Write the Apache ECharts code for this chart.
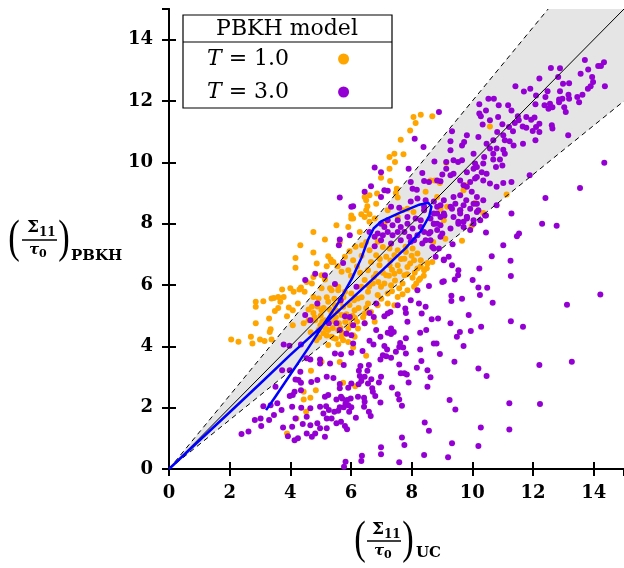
<!DOCTYPE html>
<html>
<head>
<meta charset="utf-8">
<script src="https://cdn.jsdelivr.net/npm/echarts@6/dist/echarts.min.js"></script>
<style>
  html, body { margin: 0; padding: 0; background: #fff; }
  #chart { width: 624px; height: 568px; }
</style>
</head>
<body>
<div id="chart"></div>
<script>
// Shear stress predicted by the PBKH model vs. the UC reference, two temperatures.
const seriesNames = ['T = 1.0', 'T = 3.0'];
const axisTicks = [0, 2, 4, 6, 8, 10, 12, 14];

// T = 1.0 samples
const t1Points = [
  [8.06,11.48],[8.30,11.55],[8.68,11.50],[8.13,11.28],[7.95,11.04],[7.64,10.74],[7.73,10.26],[7.43,10.28],
  [7.27,10.17],[7.45,10.01],[7.27,9.79],[6.99,9.50],[7.29,9.39],[7.51,9.14],[6.61,8.93],[6.45,8.87],
  [6.86,8.98],[6.50,8.76],[7.48,9.00],[7.54,8.85],[6.83,8.65],[6.54,8.57],[6.01,8.27],[6.34,8.31],
  [6.61,8.31],[6.07,8.17],[7.21,8.44],[6.78,8.17],[5.52,7.95],[8.46,9.04],[8.62,9.41],[8.76,9.41],
  [7.86,8.49],[7.70,8.44],[8.06,8.38],[8.95,8.49],[9.06,8.11],[9.71,9.09],[9.77,9.25],[7.54,8.22],
  [7.10,8.00],[6.36,7.30],[6.61,7.13],
  [4.76,7.73],[5.14,7.48],[5.63,7.40],[4.33,7.30],[4.76,7.06],[4.17,6.88],[5.25,6.94],[5.33,6.83],
  [5.42,6.75],[4.87,6.70],[5.20,6.61],[4.17,6.56],[5.56,6.61],[5.69,6.43],[5.03,6.32],[4.76,6.26],
  [5.14,6.18],[4.54,6.10],[4.35,5.92],[4.00,5.89],[3.73,5.85],[4.11,5.78],[4.47,5.78],[4.30,5.85],
  [5.31,5.89],[5.58,5.83],[4.76,5.61],[3.60,5.61],[3.78,5.61],[3.38,5.56],[3.46,5.58],[3.11,5.47],
  [2.86,5.45],[3.67,5.45],[4.25,5.40],[3.95,5.27],[4.08,5.18],[3.60,5.25],[3.49,5.15],[2.86,5.29],
  [4.60,5.20],[4.76,5.09],[3.89,4.98],[3.30,4.91],[4.60,4.85],[4.08,4.69],[4.44,4.75],[2.86,4.75],
  [3.35,4.56],[3.32,4.47],[2.70,4.31],[3.00,4.22],[3.15,4.17],[3.38,4.22],[2.05,4.22],[2.29,4.15],
  [2.75,4.09],
  [4.68,3.20],[4.84,2.57],[4.66,2.32],[4.44,2.27],[4.20,1.65],[4.52,1.87],[3.89,1.16],
  [5.63,3.49],[5.03,3.50],[4.44,2.52],[6.07,3.96],[6.50,3.69],[6.14,2.70],[5.74,2.81],
  [6.01,8.17],[6.45,8.22],[6.50,8.44],[6.61,8.06],[5.91,7.89],[6.29,7.73],[6.88,7.41],[7.05,7.24],
  [7.27,7.19],[7.54,7.13],[7.81,7.08],[8.03,7.19],[8.19,7.03],[8.08,6.81],[7.76,6.86],[7.43,6.97],
  [7.16,6.92],[6.83,6.97],[6.66,6.75],[6.94,6.64],[7.27,6.64],[7.54,6.64],[7.86,6.59],[8.19,6.54],
  [8.41,6.48],[8.52,6.70],[8.68,6.75],[6.56,6.48],[6.83,6.37],[7.16,6.32],[7.43,6.37],[7.76,6.32],
  [8.03,6.24],[8.24,6.16],[6.45,6.16],[6.72,6.05],[6.99,5.94],[7.32,5.99],[7.59,5.89],[7.86,5.83],
  [8.08,5.94],[7.21,5.72],[7.54,5.61],[6.88,5.67],[6.56,5.78],[6.34,5.94],[6.23,5.56],[6.56,5.40],
  [6.88,5.34],[7.21,5.40],[7.43,5.34],[6.12,5.18],[6.45,5.07],[6.66,5.12],[5.80,6.92],[6.07,6.81],
  [5.91,6.48],[5.36,6.75],[4.71,6.05],[5.03,5.89],[5.36,5.83],[5.58,5.94],[5.80,5.78],[6.01,5.72],
  [4.93,5.56],[5.25,5.45],[5.47,5.34],[5.74,5.29],[4.71,5.29],[5.03,5.18],[5.36,5.07],[5.69,5.02],
  [5.96,4.91],[5.47,4.80],[5.14,4.85],[4.82,4.85],[5.25,4.53],[5.58,4.53],[5.91,4.58],[6.23,4.58],
  [4.93,4.53],[5.36,4.31],[5.69,4.31],[6.12,4.31],[6.45,4.75],[6.78,4.80],
  [5.09,4.43],[5.42,4.27],[5.74,4.20],[6.07,4.36],[4.86,4.20],[5.25,4.04],[5.58,4.07],[5.91,4.14],
  [4.99,4.69],[4.67,4.46],[5.81,4.79],[6.13,4.92],
  [10.58,11.17],[11.13,8.95],[10.09,8.67],[9.14,9.99],[8.93,9.33],[8.84,8.87],[9.98,7.92],
  [9.17,8.55],[10.36,8.35],[9.66,7.44],[9.11,7.51],[8.71,7.40],[8.30,6.81],[8.52,6.72],[8.28,6.21],
  [10.12,8.65],
  [4.80,4.95],[4.90,5.30],[5.00,5.00],[5.05,4.80],[5.10,5.25],[5.15,4.60],[5.20,5.60],[5.30,4.90],
  [5.30,5.20],[5.40,4.60],[5.45,5.55],[5.50,4.95],[5.55,5.15],[5.60,4.75],[5.65,5.45],[5.70,4.45],
  [5.75,5.60],[5.85,5.05],[5.85,4.40],[5.95,5.35],[6.00,4.70],[6.05,5.00],[6.10,5.50],[6.20,4.80],
  [6.25,5.25],[6.35,5.60],[6.40,4.95],[6.50,5.25],[5.20,4.35],[5.50,4.25],[4.95,4.30],[5.65,4.60],
  [6.60,5.95],[6.75,6.25],[6.90,6.10],[7.05,6.40],[7.10,6.05],[7.25,6.30],[7.35,6.50],[7.45,6.15],
  [7.60,6.45],[7.70,6.05],[7.85,6.35],[7.95,6.70],[8.10,6.40],[8.15,6.05],[8.30,6.60],[8.40,6.30],
  [8.50,6.55],[7.00,5.55],[7.35,5.80],[7.70,5.70],[7.65,6.85],[7.30,6.80],[6.95,6.85],[8.00,6.95],
  [7.80,7.25],[6.20,6.60],[6.35,6.95],[6.15,7.25],[6.50,7.40],[6.00,6.30],[6.30,6.40],[5.95,7.10]
];

// T = 3.0 samples
const t3Points = [
  [6.97,4.31],[7.32,4.40],[7.41,4.47],[7.81,4.26],[8.28,4.44],[8.48,4.53],[9.49,4.31],[9.59,4.47],
  [9.95,4.50],[6.61,4.18],[6.74,4.06],[6.07,4.09],[7.62,4.11],[7.59,3.98],[7.72,3.96],[8.73,4.09],
  [8.82,4.09],[9.71,4.01],[7.10,4.01],[7.19,3.90],[6.38,3.85],[6.01,3.79],[5.67,3.74],[7.48,3.82],
  [8.28,3.90],[8.93,3.75],[7.05,3.71],[7.16,3.68],[7.32,3.63],[6.97,3.57],[7.81,3.77],[8.32,3.52],
  [9.41,3.50],[5.76,3.39],[6.31,3.36],[6.59,3.39],[7.59,3.41],[8.17,3.30],[8.52,3.22],[10.20,3.28],
  [6.26,3.20],[6.54,3.20],[7.64,3.12],[7.76,3.12],[7.84,3.08],[6.29,3.03],[6.45,3.01],[6.99,3.01],
  [8.62,2.99],[6.67,2.93],[6.34,2.87],[6.92,2.82],[6.56,2.79],[7.90,2.82],[5.63,2.77],[6.01,2.79],
  [6.25,2.76],[5.63,2.63],[5.91,2.65],[6.70,2.63],[7.35,2.66],[8.52,2.68],[6.72,2.52],[7.54,2.44],
  [5.67,2.36],[6.23,2.36],[5.71,2.30],[6.43,2.32],[6.80,2.38],[7.59,2.27],[9.25,2.25],[5.87,2.25],
  [5.99,2.30],[6.45,2.19],[6.97,2.17],[5.82,2.14],[5.91,2.08],[7.68,2.06],[5.63,2.01],[5.76,2.01],
  [6.01,2.01],[6.43,2.03],[9.44,1.94],[5.58,1.90],[5.94,1.87],[6.59,1.87],[6.65,1.73],[6.16,1.67],
  [8.43,1.52],[5.67,1.54],[5.80,1.40],[5.87,1.30],[8.57,1.25],[10.28,1.35],[7.68,1.03],[7.76,0.78],
  [9.33,0.84],[10.20,0.75],[6.99,0.71],[6.99,0.48],[8.41,0.46],[9.20,0.38],[6.36,0.43],[6.34,0.26],
  [7.59,0.22],[5.82,0.24],[5.77,0.07],
  [11.29,8.33],[12.30,8.00],[12.78,7.93],[10.45,7.71],[11.54,7.68],[11.47,7.59],[11.02,7.30],[9.35,7.33],
  [10.64,6.94],[11.26,6.79],[9.22,6.92],[9.06,6.83],[10.23,6.54],[9.54,6.48],[9.33,6.64],[9.53,6.32],
  [9.42,6.18],[11.27,6.29],[10.01,6.16],[9.06,6.12],[9.01,6.10],[8.57,5.97],[10.20,5.92],[10.49,5.91],
  [9.31,5.65],[9.31,5.48],[9.66,5.55],[10.25,5.67],[14.22,5.69],[13.12,5.36],[10.67,5.42],[8.46,5.29],
  [8.24,5.40],[8.33,5.07],[8.66,4.88],[8.87,4.91],[9.88,5.02],[9.28,4.75],[10.29,4.64],[11.27,4.82],
  [11.67,4.64],[12.21,3.39],[13.28,3.50],[10.47,3.03],[11.22,2.14],[12.23,2.12],[11.22,1.29],
  [8.41,8.55],[8.73,8.33],[8.95,8.60],[9.06,8.33],[9.28,8.55],[9.44,8.65],[9.60,8.44],[9.82,8.22],
  [9.71,8.06],[8.84,8.00],[8.62,7.73],[9.01,7.68],[9.28,7.84],[10.15,8.38],[10.42,8.27],[10.15,8.65],
  [8.46,7.46],[8.68,7.24],
  [5.80,4.98],[5.96,4.96],[6.61,5.09],[6.75,4.96],[6.45,4.75],[5.85,4.42],[6.01,4.36],[7.10,4.98],
  [7.30,5.12],[7.79,5.23],[7.81,5.09],[7.86,4.80],[6.83,4.53],[7.21,4.44],[7.32,4.58],[6.83,5.40],
  [7.54,5.34],
  [4.49,5.02],[4.66,4.85],[4.89,5.40],[5.52,4.75],[5.27,4.75],[3.78,4.06],[3.97,4.02],[4.35,4.06],
  [4.54,3.61],[4.66,3.57],[4.98,3.57],[4.98,3.44],[5.31,3.44],[5.47,3.77],[3.73,3.22],[3.98,3.22],
  [4.33,3.17],[4.17,2.92],[4.27,2.90],[4.35,2.81],[4.69,2.84],[4.89,2.90],[5.20,3.01],[5.42,2.97],
  [3.51,2.68],[3.98,2.38],[4.08,2.41],[4.14,2.52],[4.35,2.57],[5.14,2.36],[5.25,2.41],[5.52,2.27],
  [3.11,2.05],[3.35,2.08],[3.57,2.14],[3.71,1.92],[4.06,2.03],[4.36,2.00],[4.66,1.98],[4.98,2.03],
  [5.18,2.05],[5.27,1.92],[5.45,1.87],[3.46,1.76],[3.02,1.65],[2.83,1.60],[3.30,1.60],[4.17,1.65],
  [4.54,1.70],[5.09,1.81],[5.20,1.65],[5.36,1.65],[5.52,1.49],[3.04,1.40],[3.76,1.35],[4.06,1.38],
  [4.41,1.47],[4.66,1.43],[4.89,1.49],[4.98,1.33],[2.39,1.14],[2.62,1.22],[3.92,1.07],[4.14,0.94],
  [4.25,1.00],[4.54,1.16],[4.71,1.05],[4.82,1.16],[5.14,1.05],[5.20,1.33],
  [5.63,7.48],[5.60,7.30],[5.74,6.72],[4.82,6.37],[5.14,6.32],[5.47,6.03],
  [6.61,7.73],[6.88,7.68],[7.21,7.73],[7.37,7.62],[7.54,7.73],[7.76,7.73],[7.92,7.57],[8.19,7.62],
  [8.57,7.68],[8.73,7.19],[9.06,6.81],[8.08,7.46],[6.99,7.46],[6.78,7.26],[7.32,7.35],[5.96,7.62],
  [6.18,5.94],[5.66,5.50],[8.19,5.83],[7.97,5.50],[7.21,5.07],[4.49,6.16],[6.07,4.69],[5.63,4.53],
  [7.10,7.89],[7.37,7.95],[7.64,7.89],[7.86,8.00],[8.03,7.84],[8.30,7.89],[8.41,7.73],[8.73,8.00],
  [8.84,7.79],[8.95,7.57],[8.62,7.46],[8.35,7.35],[7.97,7.41],[7.64,7.46],[7.05,7.62],[6.78,7.57],
  [8.90,7.19],[8.79,6.92],[7.86,8.22],[7.54,8.11],[7.21,8.11],[6.99,8.00],[8.13,8.17],[8.95,8.22],
  [8.84,8.55],
  [8.90,11.64],[9.33,11.01],[9.82,10.88],[9.73,10.66],[9.28,10.69],[8.39,10.50],[8.10,10.77],[9.28,10.39],
  [6.78,9.83],[7.90,9.79],[8.75,10.03],[9.14,10.01],[9.38,10.07],[9.53,10.01],[9.66,10.07],[9.14,9.79],
  [10.04,10.28],[9.82,9.68],[10.09,9.96],[8.35,9.65],[6.66,9.22],[7.10,9.09],[7.21,9.07],[6.99,8.87],
  [7.97,9.36],[8.03,9.14],[8.17,9.11],[8.41,9.39],[8.57,9.36],[8.84,9.41],[8.95,9.38],[9.01,9.60],
  [9.28,9.58],[9.38,9.63],[9.60,9.41],[9.71,9.25],[9.93,9.36],[10.09,9.47],[5.63,8.85],[6.07,8.57],
  [7.97,8.72],[8.19,8.82],[8.46,8.76],[8.73,8.72],[9.06,8.76],[9.38,8.87],[9.60,8.93],[9.80,8.76],
  [10.04,8.65],[9.33,8.49],[9.60,8.44],[7.32,8.55],[7.59,8.52],[8.41,8.44],[8.84,8.33],[9.08,8.27],
  [9.38,8.22],[9.82,8.17],[8.62,8.17],[8.30,8.11],[8.73,8.00],[8.95,7.95],[9.54,8.00],[10.04,8.00],
  [6.45,9.04],[6.01,8.55],[6.99,9.68],
  [12.59,13.08],[12.89,13.07],[13.71,13.34],[13.82,13.03],[13.57,12.89],[14.15,13.14],[14.24,13.14],[14.34,13.26],
  [12.21,12.73],[12.83,12.78],[12.99,12.56],[13.19,12.58],[13.95,12.78],[13.98,12.62],[13.90,12.48],[13.81,12.40],
  [14.37,12.48],[11.42,12.48],[11.70,12.31],[11.91,12.40],[12.48,12.32],[12.89,12.32],[13.17,12.20],[13.46,12.13],
  [13.52,11.96],[13.63,12.20],[10.53,12.07],[10.71,12.07],[12.10,12.18],[12.41,12.13],[12.86,12.05],[12.97,12.07],
  [13.19,12.07],[12.86,11.96],[13.03,11.80],[12.64,11.80],[12.51,11.75],[12.08,11.89],[12.56,11.91],[12.38,11.86],
  [13.08,11.64],[10.87,11.86],[11.18,11.86],[11.29,11.69],[10.23,11.89],[10.45,11.69],[10.28,11.50],[11.50,11.50],
  [11.78,11.48],[12.05,11.46],[11.66,11.17],[11.78,11.13],[12.10,11.15],[12.21,10.99],[11.99,11.02],[12.62,11.21],
  [12.64,11.10],[13.16,10.88],[11.53,11.37],[11.40,11.28],[11.94,11.39],[12.21,11.26],[12.08,10.72],[10.85,11.48],
  [10.58,11.37],[10.34,11.23],[10.99,11.24],[11.21,11.15],[11.34,11.01],[10.82,10.99],[11.02,10.88],[11.07,10.72],
  [11.23,10.69],[11.36,10.55],[11.67,10.61],[10.69,10.72],[10.47,10.61],[10.58,10.45],[10.80,10.45],[11.02,10.41],
  [11.07,10.28],[10.69,10.28],[10.39,10.17],[10.69,10.09],[10.91,10.09],[10.99,9.90],[10.78,9.85],[10.36,9.96],
  [10.15,9.85],[10.04,9.79],[10.31,9.68],[10.47,9.63],[10.15,9.52],[10.36,9.41],[10.58,9.31],[10.80,9.20],
  [11.02,9.33],[11.29,9.36],[11.89,9.58],[14.35,9.99],[13.55,9.16],[12.41,8.84],[10.80,8.60],[10.45,8.27],
  [10.26,8.11],[9.82,9.20],[9.98,9.04],[10.15,8.87],[10.36,8.76],[9.71,8.60],[9.93,8.49],[10.20,8.44],
  [9.60,8.33],[9.82,8.22],[10.04,8.11],[9.54,8.06],[9.71,7.89],[9.93,7.79],[10.23,11.59],[10.20,10.83],
  [9.66,10.55]
];

// Trajectory drawn in blue, ending in an arrow head
const trajectory = [
  [0,0],[1,0.93],[2,1.85],[3,2.78],[4,3.72],[5,4.62],[6,5.53],[7,6.45],[7.8,7.2],[8.3,7.75],
  [8.58,8.25],[8.65,8.55],[8.55,8.68],[8.25,8.62],[7.6,8.35],[7.0,8.08],[6.75,7.85],[6.55,7.45],
  [6.35,6.9],[6.05,6.25],[5.6,5.45],[5.1,4.72],[4.6,3.96],[4.0,3.08],[3.5,2.35],[3.2,1.92]
];

// Reference lines: identity and the +/-20 % band
const axisMax = 15;
const bandSlopes = [0.8, 1.2];
const identityLine = [[0, 0], [axisMax, axisMax]];
const lowerLine = [[0, 0], [axisMax, axisMax * bandSlopes[0]]];
const upperLine = [[0, 0], [axisMax / bandSlopes[1], axisMax]];
const bandPolygon = [[0, 0], upperLine[1], [axisMax, axisMax], lowerLine[1]];

const serif = 'DejaVu Serif';
const chart = echarts.init(document.getElementById('chart'), null, { renderer: 'canvas' });

const tickLabel = {
  fontFamily: serif, fontWeight: 'bold', fontSize: 18, color: '#000',
  showMaxLabel: false,
  formatter: v => (axisTicks.indexOf(v) >= 0 ? String(v) : '')
};
const axisLine = { show: true, lineStyle: { color: '#000', width: 2 } };
const axisTick = { show: true, inside: true, length: 7, lineStyle: { color: '#000', width: 2 } };

function refLine(data, dashed) {
  return {
    type: 'line', data: data, symbol: 'none', silent: true, z: 4,
    lineStyle: { color: '#000', width: 1, type: dashed ? [5, 4] : 'solid' },
    animation: false
  };
}

const option = {
  animation: false,
  backgroundColor: '#fff',
  grid: { left: 169, right: -5, top: 9, bottom: 99 },
  xAxis: [
    { type: 'value', min: 0, max: axisMax, interval: 2, axisLine, axisTick,
      axisLabel: Object.assign({ margin: 15 }, tickLabel), splitLine: { show: false } },
    { type: 'value', position: 'top', min: 0, max: axisMax, interval: 2, axisLine, axisTick,
      axisLabel: { show: false }, splitLine: { show: false } }
  ],
  yAxis: [
    { type: 'value', min: 0, max: axisMax, interval: 2, axisLine, axisTick,
      axisLabel: Object.assign({ margin: 16 }, tickLabel), splitLine: { show: false } },
    { type: 'value', position: 'right', min: 0, max: axisMax, interval: 2, axisLine, axisTick,
      axisLabel: { show: false }, splitLine: { show: false } }
  ],
  legend: {
    data: seriesNames,
    orient: 'vertical',
    left: 207, top: 47, padding: 0,
    align: 'right',
    itemWidth: 11, itemHeight: 11, itemGap: 9,
    icon: 'circle',
    z: 10,
    selectedMode: false,
    formatter: name => '{it|T}{n| = ' + name.split('= ')[1] + '}{gap| }',
    textStyle: {
      lineHeight: 24, color: '#000',
      rich: {
        it: { fontFamily: serif, fontStyle: 'italic', fontSize: 22, lineHeight: 24, color: '#000' },
        n: { fontFamily: serif, fontSize: 22, lineHeight: 24, color: '#000' },
        gap: { fontSize: 22, lineHeight: 24, width: 44 }
      }
    }
  },
  graphic: [
    { type: 'rect', z: 8, shape: { x: 183, y: 15, width: 209, height: 93 },
      style: { fill: '#fff', stroke: '#000', lineWidth: 1.2 } },
    { type: 'line', z: 9, shape: { x1: 183, y1: 42, x2: 392, y2: 42 },
      style: { stroke: '#000', lineWidth: 1.2 } },
    { type: 'text', z: 9, x: 287, y: 29,
      style: { text: 'PBKH model', font: '22px "DejaVu Serif"', fill: '#000',
               textAlign: 'center', textVerticalAlign: 'middle' } },
    // y-axis title
    { type: 'text', x: 14, y: 240, scaleX: 0.75,
      style: { text: '(', font: '46px "Liberation Serif"', fill: '#000', textAlign: 'center', textVerticalAlign: 'middle' } },
    { type: 'text', x: 39, y: 228,
      style: { text: 'Σ', font: 'bold 17px "DejaVu Serif"', fill: '#000', textAlign: 'right', textVerticalAlign: 'middle' } },
    { type: 'text', x: 39, y: 233,
      style: { text: '11', font: 'bold 12px "DejaVu Serif"', fill: '#000', textAlign: 'left', textVerticalAlign: 'middle' } },
    { type: 'line', shape: { x1: 22, y1: 240, x2: 57, y2: 240 }, style: { stroke: '#000', lineWidth: 1.3 } },
    { type: 'text', x: 39, y: 250,
      style: { text: 'τ', font: 'italic bold 15px "DejaVu Serif"', fill: '#000', textAlign: 'right', textVerticalAlign: 'middle' } },
    { type: 'text', x: 39, y: 254,
      style: { text: '0', font: 'bold 11px "DejaVu Serif"', fill: '#000', textAlign: 'left', textVerticalAlign: 'middle' } },
    { type: 'text', x: 64, y: 240, scaleX: 0.75,
      style: { text: ')', font: '46px "Liberation Serif"', fill: '#000', textAlign: 'center', textVerticalAlign: 'middle' } },
    { type: 'text', x: 71, y: 256,
      style: { text: 'PBKH', font: 'bold 15px "DejaVu Serif"', fill: '#000', textAlign: 'left', textVerticalAlign: 'middle' } },
    // x-axis title
    { type: 'text', x: 360, y: 541, scaleX: 0.75,
      style: { text: '(', font: '46px "Liberation Serif"', fill: '#000', textAlign: 'center', textVerticalAlign: 'middle' } },
    { type: 'text', x: 384, y: 530,
      style: { text: 'Σ', font: 'bold 17px "DejaVu Serif"', fill: '#000', textAlign: 'right', textVerticalAlign: 'middle' } },
    { type: 'text', x: 384, y: 535,
      style: { text: '11', font: 'bold 12px "DejaVu Serif"', fill: '#000', textAlign: 'left', textVerticalAlign: 'middle' } },
    { type: 'line', shape: { x1: 367, y1: 541, x2: 401, y2: 541 }, style: { stroke: '#000', lineWidth: 1.3 } },
    { type: 'text', x: 384, y: 551,
      style: { text: 'τ', font: 'italic bold 15px "DejaVu Serif"', fill: '#000', textAlign: 'right', textVerticalAlign: 'middle' } },
    { type: 'text', x: 384, y: 555,
      style: { text: '0', font: 'bold 11px "DejaVu Serif"', fill: '#000', textAlign: 'left', textVerticalAlign: 'middle' } },
    { type: 'text', x: 408, y: 541, scaleX: 0.75,
      style: { text: ')', font: '46px "Liberation Serif"', fill: '#000', textAlign: 'center', textVerticalAlign: 'middle' } },
    { type: 'text', x: 416, y: 553,
      style: { text: 'UC', font: 'bold 15px "DejaVu Serif"', fill: '#000', textAlign: 'left', textVerticalAlign: 'middle' } }
  ],
  series: [
    {
      type: 'custom', silent: true, z: 1, clip: true,
      data: [[0, 0]],
      renderItem: (params, api) => ({
        type: 'polygon',
        shape: { points: bandPolygon.map(p => api.coord(p)) },
        style: { fill: '#e5e5e5' }
      })
    },
    {
      name: seriesNames[0], type: 'scatter', data: t1Points, symbolSize: 6, z: 2,
      itemStyle: { color: '#ffa500', opacity: 1 }
    },
    {
      name: seriesNames[1], type: 'scatter', data: t3Points, symbolSize: 6, z: 3,
      itemStyle: { color: '#9400d3', opacity: 1 }
    },
    refLine(lowerLine, true),
    refLine(upperLine, true),
    refLine(identityLine, false),
    {
      type: 'lines', coordinateSystem: 'cartesian2d', polyline: true, silent: true, z: 6,
      symbol: ['none', 'arrow'], symbolSize: 11,
      lineStyle: { color: '#0000ff', width: 2.5, opacity: 1 },
      data: [{ coords: trajectory }]
    }
  ]
};

chart.setOption(option);
</script>
</body>
</html>
